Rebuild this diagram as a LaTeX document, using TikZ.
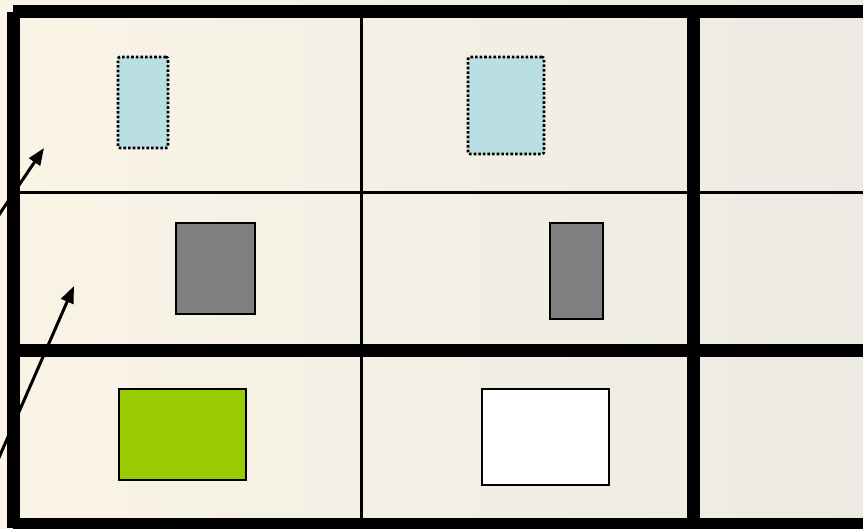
\documentclass[tikz,border=0pt]{standalone}
\definecolor{paper1}{RGB}{250, 244, 230}
\definecolor{paper2}{RGB}{237, 234, 228}
\definecolor{ice1}{RGB}{186, 223, 227}
\definecolor{slate1}{RGB}{128, 128, 128}
\definecolor{lime1}{RGB}{153, 204, 0}
\usepackage{tikz}
\usetikzlibrary{arrows.meta, positioning, calc}

\begin{document}
\begin{tikzpicture}[x=1pt, y=-1pt,
    thickrule/.style={line width=13pt},
    thinrule/.style={line width=3pt},
    block/.style={draw, line width=2.2pt, inner sep=0pt},
    ghost/.style={block, fill=ice1, line width=2.6pt, dotted, rounded corners=2pt},
    pointer/.style={line width=3pt, -{Triangle[length=17pt, width=13pt]}}]
  \useasboundingbox (0,0) rectangle (863,528);
  \clip (0,0) rectangle (863,528);
  % paper background
  \shade[left color=paper1, right color=paper2] (0,0) rectangle (863,528);

  % grid
  \draw[thinrule] (20,192) -- (863,192);
  \draw[thinrule] (361,17) -- (361,518);
  \draw[thickrule] (13,11) -- (863,11);
  \draw[thickrule] (13.5,12) -- (13.5,528);
  \draw[thickrule] (7,350) -- (863,350);
  \draw[thickrule] (13,524) -- (863,524);
  \draw[thickrule] (693.5,17) -- (693.5,518);

  % blocks
  \node[ghost, minimum width=50pt, minimum height=91pt] (ghostA) at (143,102.5) {};
  \node[ghost, minimum width=76pt, minimum height=97pt] (ghostB) at (506,105.5) {};
  \node[block, fill=slate1, minimum width=79pt, minimum height=91pt] (greyA) at (215.5,268.5) {};
  \node[block, fill=slate1, minimum width=53pt, minimum height=96pt] (greyB) at (576.5,271) {};
  \node[block, fill=lime1, minimum width=127pt, minimum height=91pt] (limeA) at (182.5,434.5) {};
  \node[block, fill=white, minimum width=127pt, minimum height=96pt] (whiteB) at (545.5,437) {};

  % pointers from outside
  \coordinate (srcA) at (-20,243);
  \coordinate (srcB) at (-20,501);
  \coordinate (cellA) at (44,148);
  \coordinate (cellB) at (74,286);
  \draw[pointer] (srcA) -- (cellA);
  \draw[pointer] (srcB) -- (cellB);
\end{tikzpicture}
\end{document}
